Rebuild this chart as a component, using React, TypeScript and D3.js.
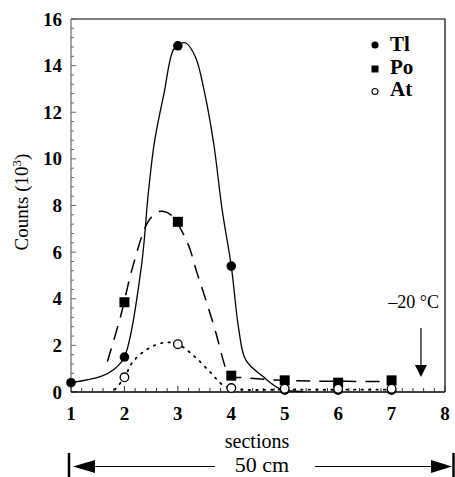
import React, { useEffect, useRef } from 'react';
import * as d3 from 'd3';

// measured points per section
const sections = [1, 2, 3, 4, 5, 6, 7];
const tlValues = [0.4, 1.5, 14.85, 5.4, 0.08, 0.08, 0.08];
const poSections = [2, 3, 4, 5, 6, 7];
const poValues = [3.85, 7.3, 0.7, 0.5, 0.4, 0.5];
const atSections = [2, 3, 4, 5, 6, 7];
const atValues = [0.63, 2.05, 0.17, 0.14, 0.14, 0.14];

// fitted curves
const tlCurveX = [1, 1.56, 1.81, 2, 2.31, 2.45, 2.56, 2.74, 2.92, 3.05, 3.15, 3.33, 3.49, 3.67, 3.83, 4, 4.14, 4.27, 4.6, 4.92, 5.35];
const tlCurveY = [0.4, 0.67, 0.98, 1.5, 5.26, 8.6, 10.7, 12.8, 14.7, 14.95, 14.97, 14.37, 12.95, 10.67, 7.8, 5.4, 2.69, 1.38, 0.65, 0.13, 0.02];
const poCurveX = [1.68, 1.93, 2.15, 2.43, 2.6, 2.71, 2.87, 3.18, 3.36, 3.55, 3.71, 3.86, 3.95, 4.05, 4.2, 4.8, 5.5, 7];
const poCurveY = [1.3, 3.26, 5.33, 7.25, 7.7, 7.75, 7.6, 6.4, 5.1, 3.76, 2.55, 1.27, 0.7, 0.63, 0.62, 0.52, 0.47, 0.45];
const atCurveX = [1.82, 2, 2.15, 2.43, 2.74, 3, 3.3, 3.61, 3.86, 4.1, 5, 7];
const atCurveY = [0.1, 0.62, 1.27, 1.84, 2.12, 2.05, 1.55, 0.84, 0.27, 0.12, 0.1, 0.1];

const xTicks = [1, 2, 3, 4, 5, 6, 7, 8];
const yTicks = [0, 2, 4, 6, 8, 10, 12, 14, 16];
const legendLabels = ['Tl', 'Po', 'At'];

const FONT = 'Liberation Serif, DejaVu Serif, serif';

export default function App() {
  const ref = useRef<SVGSVGElement>(null);

  useEffect(() => {
    const svg = d3.select(ref.current);
    svg.selectAll('*').remove();

    const x = d3.scaleLinear().domain([1, 8]).range([71, 445]);
    const y = d3.scaleLinear().domain([0, 16]).range([392, 19]);

    const txt = (sel: any, size: number, bold = false) =>
      sel.attr('font-family', FONT).attr('font-size', size).attr('font-weight', bold ? 'bold' : 'normal');

    // frame: top + right
    svg.append('path')
      .attr('d', `M${x(1)},${y(16)}H${x(8)}V${y(0)}`)
      .attr('fill', 'none').attr('stroke', '#000').attr('stroke-width', 1.2);

    // left axis
    svg.append('line')
      .attr('x1', x(1)).attr('x2', x(1)).attr('y1', y(0)).attr('y2', y(16))
      .attr('stroke', '#666').attr('stroke-width', 1.2);
    const yMinor = d3.range(0, 16.01, 0.4);
    svg.append('g').selectAll('line').data(yMinor).enter().append('line')
      .attr('x1', x(1)).attr('x2', d => x(1) + (Math.abs(d % 2) < 0.01 || Math.abs(d % 2 - 2) < 0.01 ? 5 : 3))
      .attr('y1', d => y(d)).attr('y2', d => y(d))
      .attr('stroke', '#666').attr('stroke-width', 1);
    txt(svg.append('g').selectAll('text').data(yTicks).enter().append('text')
      .attr('x', 62).attr('y', d => y(d) + 6.5)
      .attr('text-anchor', 'end'), 19, true)
      .text(d => d);

    // bottom axis
    svg.append('line')
      .attr('x1', x(1)).attr('x2', x(8)).attr('y1', y(0)).attr('y2', y(0))
      .attr('stroke', '#000').attr('stroke-width', 1.5);
    const xMinor = d3.range(1, 8.01, 0.2);
    svg.append('g').selectAll('line').data(xMinor).enter().append('line')
      .attr('x1', d => x(d)).attr('x2', d => x(d))
      .attr('y1', y(0)).attr('y2', d => y(0) - (Math.abs(d - Math.round(d)) < 0.01 ? 6 : 4))
      .attr('stroke', '#333').attr('stroke-width', 1);
    txt(svg.append('g').selectAll('text').data(xTicks).enter().append('text')
      .attr('x', d => x(d)).attr('y', 420)
      .attr('text-anchor', 'middle'), 19, true)
      .text(d => d);

    // axis titles
    txt(svg.append('text')
      .attr('x', 257).attr('y', 448).attr('text-anchor', 'middle'), 20)
      .text('sections');
    const yl = txt(svg.append('text')
      .attr('transform', 'translate(28,202) rotate(-90)')
      .attr('text-anchor', 'middle'), 19);
    yl.append('tspan').text('Counts (10');
    yl.append('tspan').attr('dy', -7).attr('font-size', 13).text('3');
    yl.append('tspan').attr('dy', 7).text(')');

    // curves
    const line = d3.line<[number, number]>()
      .x(d => x(d[0])).y(d => y(d[1]))
      .curve(d3.curveCatmullRom.alpha(0.5));
    svg.append('path')
      .attr('d', line(tlCurveX.map((v, i) => [v, tlCurveY[i]]) as [number, number][]))
      .attr('fill', 'none').attr('stroke', '#000').attr('stroke-width', 1.3);
    svg.append('path')
      .attr('d', line(poCurveX.map((v, i) => [v, poCurveY[i]]) as [number, number][]))
      .attr('fill', 'none').attr('stroke', '#000').attr('stroke-width', 1.5)
      .attr('stroke-dasharray', '14,9');
    svg.append('path')
      .attr('d', line(atCurveX.map((v, i) => [v, atCurveY[i]]) as [number, number][]))
      .attr('fill', 'none').attr('stroke', '#000').attr('stroke-width', 1.8)
      .attr('stroke-dasharray', '1.5,6').attr('stroke-linecap', 'round');

    // markers
    svg.append('g').selectAll('rect').data(poSections).enter().append('rect')
      .attr('x', d => x(d) - 5).attr('y', (d, i) => y(poValues[i]) - 5)
      .attr('width', 10).attr('height', 10).attr('fill', '#000');
    svg.append('g').selectAll('circle').data(sections).enter().append('circle')
      .attr('cx', d => x(d)).attr('cy', (d, i) => y(tlValues[i])).attr('r', 4.8)
      .attr('fill', '#000');
    svg.append('g').selectAll('circle').data(atSections).enter().append('circle')
      .attr('cx', d => x(d)).attr('cy', (d, i) => y(atValues[i])).attr('r', 4.3)
      .attr('fill', '#fff').attr('stroke', '#000').attr('stroke-width', 1.3);

    // legend
    const lg = svg.append('g');
    lg.append('circle').attr('cx', 375).attr('cy', 45).attr('r', 3.6).attr('fill', '#000');
    lg.append('rect').attr('x', 371.5).attr('y', 65.5).attr('width', 7).attr('height', 7).attr('fill', '#000');
    lg.append('circle').attr('cx', 375).attr('cy', 91.5).attr('r', 3).attr('fill', '#fff')
      .attr('stroke', '#000').attr('stroke-width', 1.1);
    txt(lg.selectAll('text').data(legendLabels).enter().append('text')
      .attr('x', 390).attr('y', (d, i) => 51 + i * 22.5), 21, true)
      .text(d => d);

    // temperature arrow
    txt(svg.append('text')
      .attr('x', 439).attr('y', 308).attr('text-anchor', 'end'), 18)
      .text('\u201320 \u00B0C');
    const ax = x(7.55);
    svg.append('line').attr('x1', ax).attr('x2', ax).attr('y1', 328).attr('y2', 367)
      .attr('stroke', '#000').attr('stroke-width', 1.2);
    svg.append('path').attr('d', `M${ax - 6},${365}L${ax + 6},${365}L${ax},${377}Z`).attr('fill', '#000');

    // 50 cm dimension arrow
    const ay = 466.5;
    svg.append('line').attr('x1', 69).attr('x2', 69).attr('y1', 453).attr('y2', 477)
      .attr('stroke', '#000').attr('stroke-width', 2.5);
    svg.append('line').attr('x1', 453.5).attr('x2', 453.5).attr('y1', 453).attr('y2', 477)
      .attr('stroke', '#000').attr('stroke-width', 2.5);
    svg.append('path').attr('d', `M73,${ay}L95,${ay - 6.5}L95,${ay + 6.5}Z`).attr('fill', '#000');
    svg.append('path').attr('d', `M452,${ay}L431,${ay - 6.5}L431,${ay + 6.5}Z`).attr('fill', '#000');
    svg.append('line').attr('x1', 95).attr('x2', 215).attr('y1', ay).attr('y2', ay)
      .attr('stroke', '#000').attr('stroke-width', 1.2);
    svg.append('line').attr('x1', 315).attr('x2', 431).attr('y1', ay).attr('y2', ay)
      .attr('stroke', '#000').attr('stroke-width', 1.2);
    txt(svg.append('text')
      .attr('x', 262).attr('y', 472).attr('text-anchor', 'middle'), 22)
      .text('50 cm');
  }, []);

  return (
    <svg
      ref={ref}
      width={455}
      height={477}
      style={{ position: 'absolute', left: 0, top: 0, background: '#fff' }}
    />
  );
}
